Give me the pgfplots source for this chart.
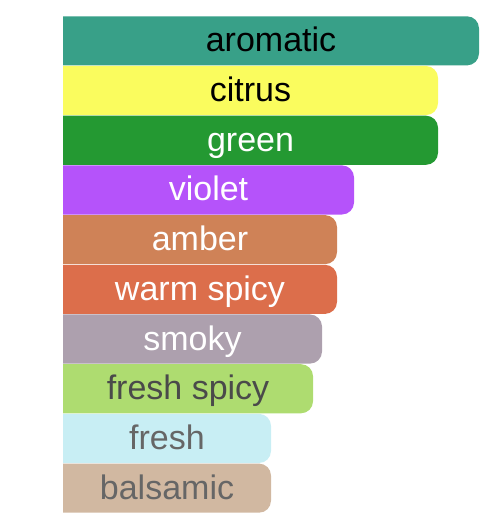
\documentclass[border=0pt]{standalone}
\usepackage{pgfplots}
\pgfplotsset{compat=1.18}
\usepackage{fontspec}
\setmainfont{Liberation Sans}
\definecolor{cArom}{HTML}{38A088}
\definecolor{cCitr}{HTML}{FAFC5E}
\definecolor{cGreen}{HTML}{249932}
\definecolor{cViol}{HTML}{B553FA}
\definecolor{cAmb}{HTML}{CF8257}
\definecolor{cWarm}{HTML}{DC6E4B}
\definecolor{cSmok}{HTML}{ADA0AE}
\definecolor{cFsp}{HTML}{AEDC70}
\definecolor{cFresh}{HTML}{C8EEF4}
\definecolor{cBals}{HTML}{D1B8A1}
\definecolor{tDark}{HTML}{4A4A4A}
\definecolor{tGray}{HTML}{666666}
% #1 position, #2 value, #3 fill, #4 text colour, #5 label
\newcommand{\fbar}[5]{%
  \pgfmathsetmacro\ylo{#1-0.494}%
  \pgfmathsetmacro\yhi{#1+0.494}%
  \addplot[fill=#3, draw=none, rounded corners=12bp]
    coordinates {(-40,\ylo) (#2,\ylo) (#2,\yhi) (-40,\yhi)} -- cycle;
  \addplot[only marks, mark=none, x filter/.expression={x/2},
    nodes near coords, point meta=explicit symbolic,
    nodes near coords style={text=#4, anchor=base, yshift=-11bp, font=\fontsize{34bp}{38bp}\selectfont, inner sep=0pt}]
    coordinates {(#2,#1) [#5]};
}
\begin{document}
\begin{tikzpicture}
\begin{axis}[
  scale only axis, width=437bp, height=526bp,
  xmin=0, xmax=437, ymin=-0.7616, ymax=9.822,
  axis line style={draw=none}, ticks=none,
  clip=true,
]
\fbar{9}{416}{cArom}{black}{aromatic}
\fbar{8}{375}{cCitr}{black}{citrus}
\fbar{7}{375}{cGreen}{white}{green}
\fbar{6}{291}{cViol}{white}{violet}
\fbar{5}{274}{cAmb}{white}{amber}
\fbar{4}{274}{cWarm}{white}{warm spicy}
\fbar{3}{259}{cSmok}{white}{smoky}
\fbar{2}{250}{cFsp}{tDark}{fresh spicy}
\fbar{1}{208}{cFresh}{tGray}{fresh}
\fbar{0}{208}{cBals}{tGray}{balsamic}
\end{axis}
\path ([xshift=-63bp]current axis.south west) -- (current axis.north east);
\end{tikzpicture}
\end{document}
